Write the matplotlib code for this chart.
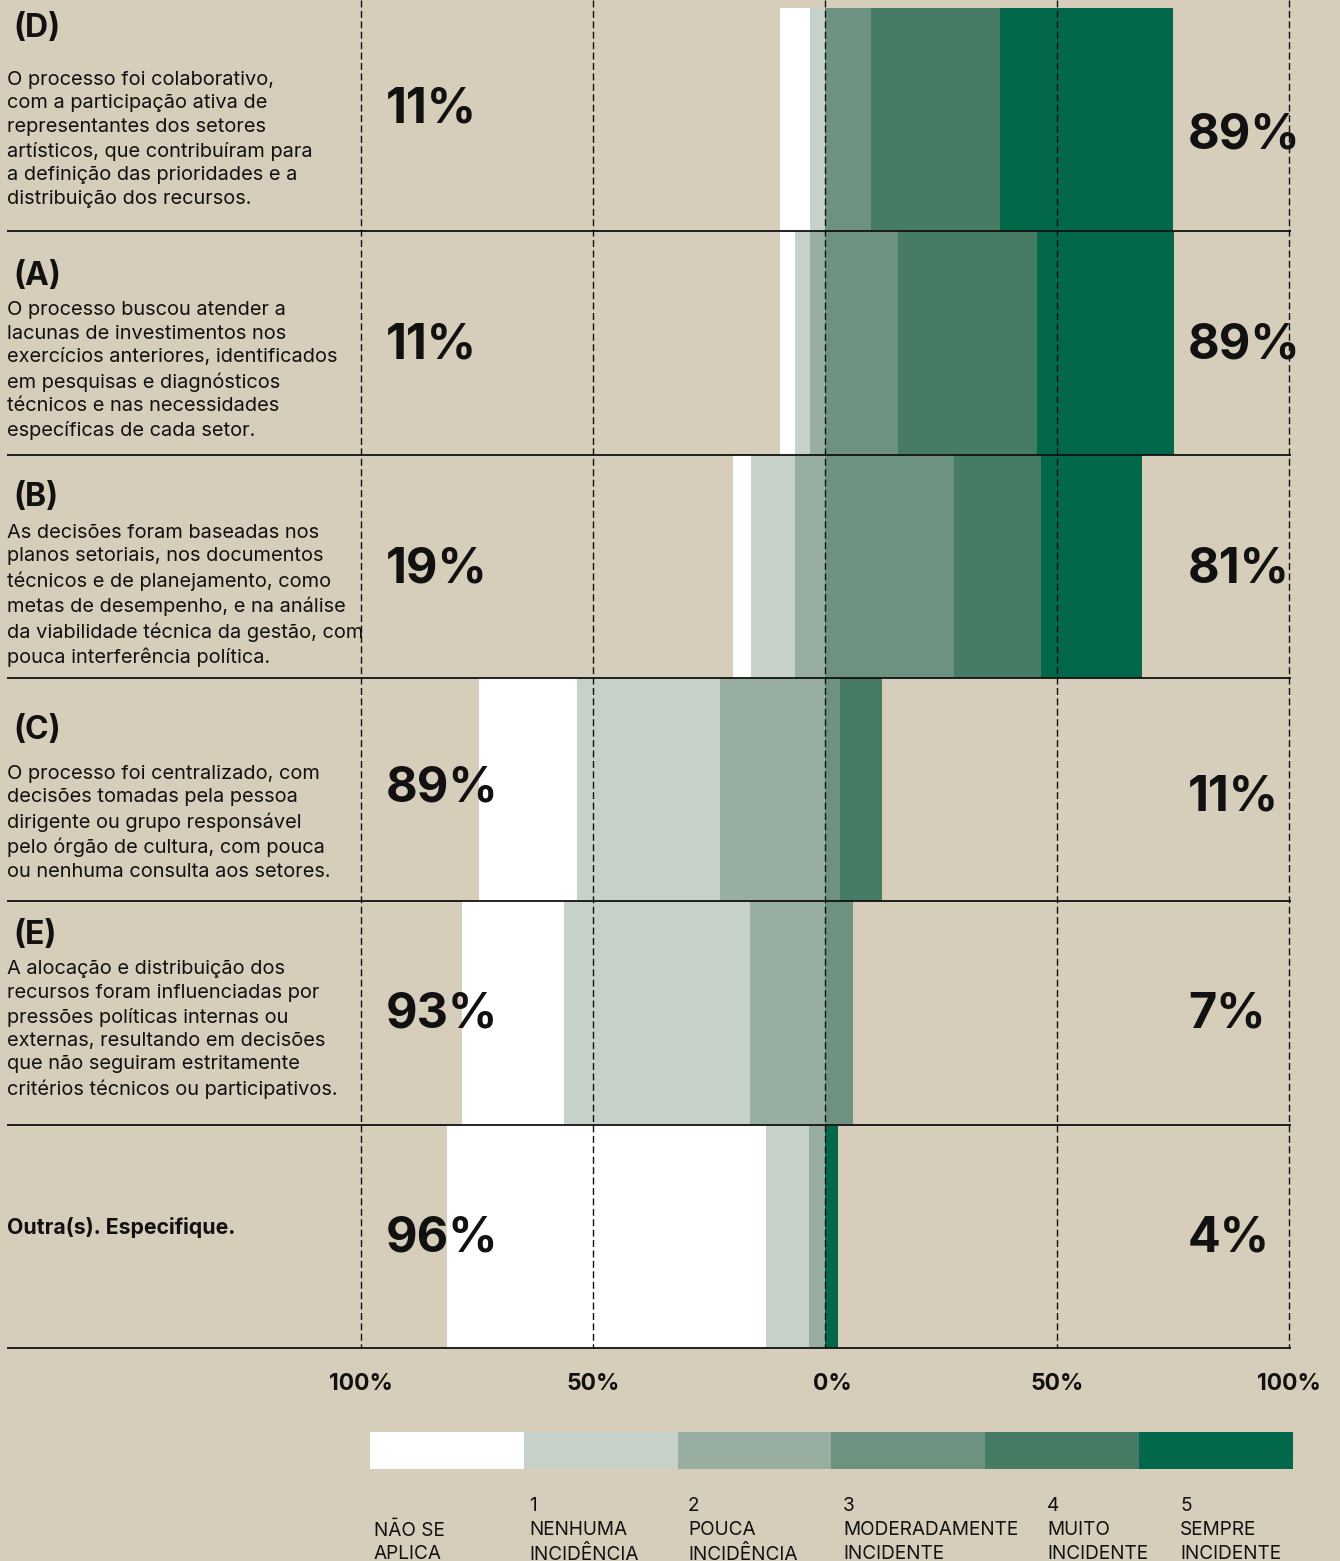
import matplotlib
matplotlib.use("Agg")
import numpy as np
from matplotlib import pyplot as plt

plt.rcParams["font.family"] = ["Inter", "DejaVu Sans"]

# ---- data (shares read against the drawn % axis) ----
codes = ["(D)", "(A)", "(B)", "(C)", "(E)", "Outra(s). Especifique."]
descriptions = [
    "O processo foi colaborativo,\ncom a participação ativa de\nrepresentantes dos setores\n"
    "artísticos, que contribuíram para\na definição das prioridades e a\ndistribuição dos recursos.",
    "O processo buscou atender a\nlacunas de investimentos nos\nexercícios anteriores, identificados\n"
    "em pesquisas e diagnósticos\ntécnicos e nas necessidades\nespecíficas de cada setor.",
    "As decisões foram baseadas nos\nplanos setoriais, nos documentos\ntécnicos e de planejamento, como\n"
    "metas de desempenho, e na análise\nda viabilidade técnica da gestão, com\npouca interferência política.",
    "O processo foi centralizado, com\ndecisões tomadas pela pessoa\ndirigente ou grupo responsável\n"
    "pelo órgão de cultura, com pouca\nou nenhuma consulta aos setores.",
    "A alocação e distribuição dos\nrecursos foram influenciadas por\npressões políticas internas ou\n"
    "externas, resultando em decisões\nque não seguiram estritamente\ncritérios técnicos ou participativos.",
    "",
]
left_labels = ["11%", "11%", "19%", "89%", "93%", "96%"]
right_labels = ["89%", "89%", "81%", "11%", "7%", "4%"]

nao_se_aplica = [6.5, 3.2, 3.9, 21.1, 22.0, 68.8]
nenhuma = [3.2, 3.2, 9.5, 30.8, 40.1, 9.3]
pouca = [0.0, 3.2, 6.5, 22.6, 16.2, 3.4]
moderada = [9.9, 15.7, 27.8, 3.2, 6.0, 0.0]
muito = [27.8, 30.0, 18.8, 9.1, 0.0, 0.0]
sempre = [37.3, 29.5, 21.8, 0.0, 0.0, 2.8]

scale_ticks = [-100, -50, 0, 50, 100]
scale_labels = ["100%", "50%", "0%", "50%", "100%"]

legend_nums = ["", "1", "2", "3", "4", "5"]
legend_names = ["NÃO SE\nAPLICA", "NENHUMA\nINCIDÊNCIA", "POUCA\nINCIDÊNCIA",
                "MODERADAMENTE\nINCIDENTE", "MUITO\nINCIDENTE", "SEMPRE\nINCIDENTE"]

# ---- style / layout ----
BG = "#d6cdba"
COLORS = ["#ffffff", "#c6d1c9", "#98aea0", "#6d9280", "#467b64", "#03684a"]
INK = "#111111"
W, H, DPI = 1340, 1561, 100
ZERO_PX, PX_PER_PCT = 825, 4.64
TOP, ROW_H = 8, 223.3


def xd(px):
    return (px - ZERO_PX) / PX_PER_PCT


fig = plt.figure(figsize=(W / DPI, H / DPI), dpi=DPI, facecolor=BG)
ax = fig.add_axes([0, 0, 1, 1])
ax.set_facecolor(BG)
ax.set_xlim(xd(0), xd(W))
ax.set_ylim(H, 0)
ax.axis("off")

n = len(codes)
ys = TOP + (np.arange(n) + 0.5) * ROW_H

left_parts = np.array([pouca, nenhuma, nao_se_aplica])   # stacked leftwards from 0
right_parts = np.array([moderada, muito, sempre])         # stacked rightwards from 0
left_cols = [COLORS[2], COLORS[1], COLORS[0]]
right_cols = [COLORS[3], COLORS[4], COLORS[5]]

cum = np.zeros(n)
for vals, c in zip(left_parts, left_cols):
    ax.barh(ys, -vals, left=-cum, height=ROW_H, color=c, lw=0, zorder=1)
    cum += vals
cum = np.zeros(n)
for vals, c in zip(right_parts, right_cols):
    ax.barh(ys, vals, left=cum, height=ROW_H, color=c, lw=0, zorder=1)
    cum += vals

# grid
ax.vlines(scale_ticks, 0, TOP + n * ROW_H, colors="#111111", lw=1.0,
          linestyles=(0, (5, 2.5)), zorder=3)
ax.hlines(TOP + (np.arange(n) + 1) * ROW_H, xd(7), xd(1291), colors="#111111",
          lw=1.3, zorder=3)

# row texts
title_off = [20, 45, 43, 53, 34]
desc_off = [73, 80, 79, 97, 69]
left_dy = [-10, 3, 3, -1, 2, 2]
right_dy = [16, 3, 3, 8, 2, 2]
for i in range(n):
    top = TOP + i * ROW_H
    if descriptions[i]:
        ax.text(xd(13), top + title_off[i], codes[i], fontsize=23, fontweight="bold",
                color=INK, va="center", ha="left")
        ax.text(xd(7), top + desc_off[i] - 10, descriptions[i], fontsize=14.4,
                color=INK, va="top", ha="left", linespacing=1.39)
    else:
        ax.text(xd(7), top + 103, codes[i], fontsize=15.3, fontweight="bold",
                color=INK, va="center", ha="left")
    ax.text(xd(386), ys[i] + left_dy[i], left_labels[i], fontsize=35,
            fontweight="bold", color=INK, va="center", ha="left", zorder=4)
    ax.text(xd(1188), ys[i] + right_dy[i], right_labels[i], fontsize=35,
            fontweight="bold", color=INK, va="center", ha="left", zorder=4)

# scale labels
for t, lab in zip(scale_ticks, scale_labels):
    ax.text(t + (1.5 if t == 0 else 0), 1384, lab, fontsize=16.5, fontweight="bold",
            color=INK, ha="center", va="center")

# legend
box_w = (1293 - 370) / len(COLORS)
for k, c in enumerate(COLORS):
    x0 = xd(370 + k * box_w)
    ax.barh(1450.5, box_w / PX_PER_PCT, left=x0, height=37, color=c, lw=0)
leg_x = [374, 529, 688, 843, 1047, 1180]
for k in range(len(COLORS)):
    if legend_nums[k]:
        ax.text(xd(leg_x[k]), 1506, legend_nums[k], fontsize=13.7, color=INK,
                ha="left", va="center")
    ax.text(xd(leg_x[k]), 1521, legend_names[k], fontsize=13.7, color=INK,
            ha="left", va="top", linespacing=1.42)

fig.savefig("out.png", dpi=DPI, facecolor=BG)
plt.close("all")
